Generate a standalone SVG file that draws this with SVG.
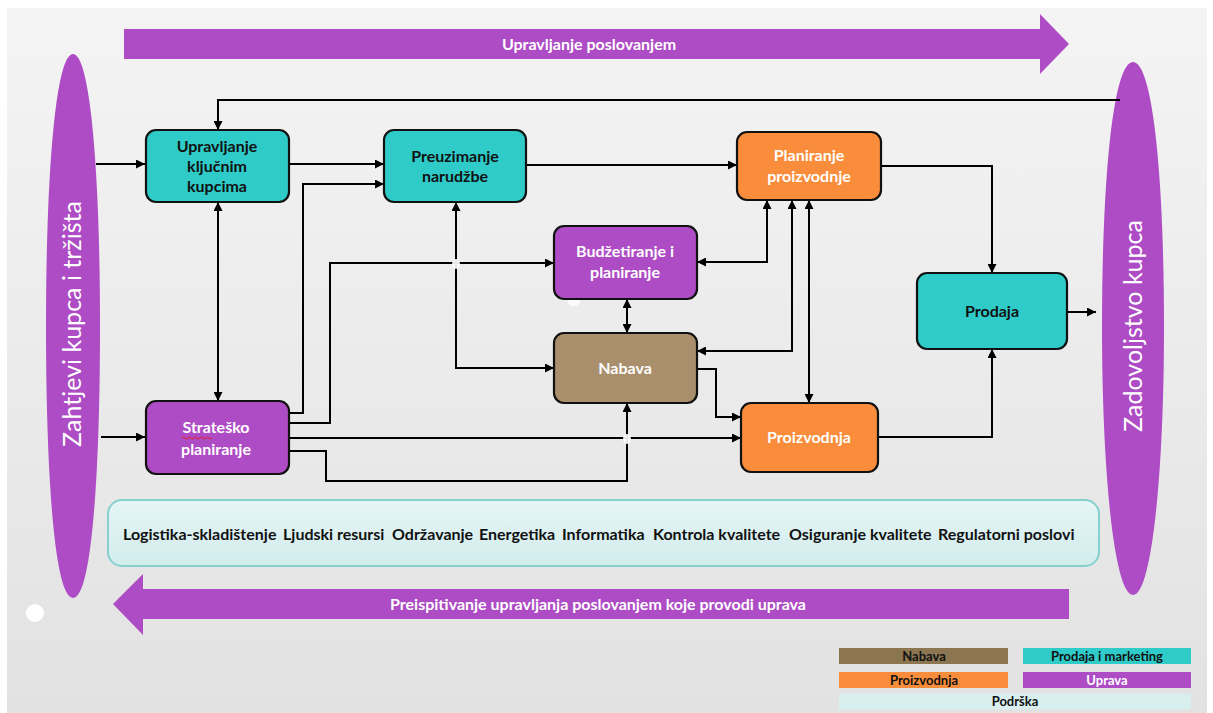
<svg xmlns="http://www.w3.org/2000/svg" width="1213" height="713" viewBox="0 0 1213 713">
  <defs>
    <linearGradient id="bg" x1="0" y1="0" x2="0" y2="1">
      <stop offset="0" stop-color="#f4f4f4"/>
      <stop offset="1" stop-color="#e2e2e2"/>
    </linearGradient>
    <linearGradient id="sup" x1="0" y1="0" x2="0" y2="1">
      <stop offset="0" stop-color="#e6f5f6"/>
      <stop offset="1" stop-color="#d2ecec"/>
    </linearGradient>
    <marker id="arr" viewBox="0 0 10 10" refX="10" refY="5" markerWidth="9" markerHeight="9" markerUnits="userSpaceOnUse" orient="auto-start-reverse">
      <path d="M0,0 L10,5 L0,10 z" fill="#000"/>
    </marker>
    <style>
      .box { stroke: #111; stroke-width: 2.2; }
      .teal { fill: #2ecbc9; }
      .purple { fill: #ae4cc5; }
      .orange { fill: #f98d3b; }
      .brown { fill: #a98f6c; }
      .t { font-family: Lato, "Liberation Sans", sans-serif; font-weight: bold; font-size: 16px; text-anchor: middle; }
      .dark { fill: #111; }
      .light { fill: #fff; }
      .big { font-family: Lato, "Liberation Sans", sans-serif; font-size: 25px; fill: #fff; text-anchor: middle; }
      .band { font-family: Lato, "Liberation Sans", sans-serif; font-weight: bold; font-size: 16px; fill: #fff; text-anchor: middle; }
      .leg { font-family: Lato, "Liberation Sans", sans-serif; font-weight: bold; font-size: 13px; text-anchor: middle; }
      .sup { font-family: Lato, "Liberation Sans", sans-serif; font-weight: bold; font-size: 16px; fill: #111; }
      .ca { fill: none; stroke: #000; stroke-width: 2; marker-end: url(#arr); }
      .cb { fill: none; stroke: #000; stroke-width: 2; marker-start: url(#arr); marker-end: url(#arr); }
    </style>
  </defs>

  <rect x="0" y="0" width="1213" height="713" fill="#ffffff"/>
  <rect x="7" y="8" width="1200" height="705" fill="url(#bg)"/>

  <!-- Top band arrow -->
  <g id="top-arrow">
    <path d="M124,29 H1040 V14 L1069,44 L1040,74 V59 H124 Z" fill="#ae4cc5"/>
    <text class="band" x="589" y="50">Upravljanje poslovanjem</text>
  </g>

  <!-- Bottom band arrow -->
  <g id="bottom-arrow">
    <path d="M1069,589 H143 V574 L113,604 L143,635 V619 H1069 Z" fill="#ae4cc5"/>
    <text class="band" x="598" y="610">Preispitivanje upravljanja poslovanjem koje provodi uprava</text>
  </g>

  <!-- Left spindle -->
  <g id="zahtjevi">
    <path d="M73,54 C90,54 100,170 100,326 C100,470 92,598 73,598 C54,598 46,470 46,326 C46,170 56,54 73,54 Z" fill="#ae4cc5"/>
    <text class="big" transform="translate(81,324) rotate(-90)">Zahtjevi kupca i tržišta</text>
  </g>

  <!-- Right spindle -->
  <g id="zadovoljstvo">
    <path d="M1133,62 C1152,62 1164,170 1164,328 C1164,470 1152,595 1133,595 C1114,595 1102,470 1102,328 C1102,170 1114,62 1133,62 Z" fill="#ae4cc5"/>
    <text class="big" transform="translate(1142,326) rotate(-90)">Zadovoljstvo kupca</text>
  </g>

  <circle cx="35" cy="613" r="9" fill="#ffffff"/>

  <!-- Connectors -->
  <g id="connectors">
    <path class="ca" d="M96,164 H145"/>
    <path class="ca" d="M289,164 H384"/>
    <path class="ca" d="M289,413 H303 V184 H384"/>
    <path class="ca" d="M1120,100 H218 V130"/>
    <path class="cb" d="M218,202 V401"/>
    <path class="ca" d="M526,165 H737"/>
    <path class="cb" d="M554,368 H456 V202"/>
    <path class="ca" d="M289,423 H330 V263 H554"/>
    <path class="ca" d="M289,438 H741"/>
    <path class="ca" d="M289,451 H326 V481 H627 V403"/>
    <path class="cb" d="M627,299 V333"/>
    <path class="cb" d="M697,262 H767 V200"/>
    <path class="cb" d="M697,351 H792 V200"/>
    <path class="cb" d="M809,200 V403"/>
    <path class="ca" d="M697,369 H716 V417 H741"/>
    <path class="ca" d="M881,166 H992 V273"/>
    <path class="ca" d="M878,437 H992 V349"/>
    <path class="ca" d="M1067,312 H1096"/>
    <path class="ca" d="M101,437 H145"/>
    <ellipse cx="456" cy="264" rx="4" ry="5" fill="#ffffff" opacity="0.9"/>
    <ellipse cx="627" cy="439" rx="4" ry="5" fill="#ffffff" opacity="0.9"/>
    <ellipse cx="574" cy="302" rx="6" ry="4" fill="#ffffff" opacity="0.8"/>
  </g>

  <!-- Nodes -->
  <g id="upravljanje-kupcima">
    <rect class="box teal" x="146" y="130" width="143" height="72" rx="10"/>
    <text class="t dark" x="217" y="152">Upravljanje</text>
    <text class="t dark" x="217" y="172">ključnim</text>
    <text class="t dark" x="217" y="192">kupcima</text>
  </g>

  <g id="preuzimanje">
    <rect class="box teal" x="384" y="130" width="142" height="72" rx="10"/>
    <text class="t dark" x="455" y="162">Preuzimanje</text>
    <text class="t dark" x="455" y="182">narudžbe</text>
  </g>

  <g id="planiranje-proizvodnje">
    <rect class="box orange" x="737" y="132" width="144" height="68" rx="10"/>
    <text class="t light" x="809" y="161">Planiranje</text>
    <text class="t light" x="809" y="182">proizvodnje</text>
  </g>

  <g id="budzetiranje">
    <rect class="box purple" x="554" y="226" width="143" height="73" rx="10"/>
    <text class="t light" x="625" y="257">Budžetiranje i</text>
    <text class="t light" x="625" y="278">planiranje</text>
  </g>

  <g id="nabava">
    <rect class="box brown" x="554" y="333" width="143" height="70" rx="10"/>
    <text class="t light" x="625" y="374">Nabava</text>
  </g>

  <g id="proizvodnja">
    <rect class="box orange" x="741" y="403" width="137" height="69" rx="10"/>
    <text class="t light" x="809" y="443">Proizvodnja</text>
  </g>

  <g id="prodaja">
    <rect class="box teal" x="917" y="273" width="150" height="76" rx="10"/>
    <text class="t dark" x="992" y="317">Prodaja</text>
  </g>

  <g id="stratesko-planiranje">
    <rect class="box purple" x="146" y="401" width="143" height="73" rx="10"/>
    <text class="t light" x="216" y="433">Strateško</text>
    <text class="t light" x="216" y="455">planiranje</text>
    <path d="M182,438 q1.5,-2 3,0 t3,0 t3,0 t3,0 t3,0 t3,0 t3,0 t3,0 t3,0 t3,0" fill="none" stroke="#e02020" stroke-width="1"/>
  </g>

  <!-- Support box -->
  <g id="podrska">
    <rect x="108" y="500" width="991" height="66" rx="14" fill="url(#sup)" stroke="#86d0ce" stroke-width="2"/>
    <text class="sup" x="123" y="540">Logistika-skladištenje</text>
    <text class="sup" x="283" y="540">Ljudski resursi</text>
    <text class="sup" x="392" y="540">Održavanje</text>
    <text class="sup" x="479" y="540">Energetika</text>
    <text class="sup" x="562" y="540">Informatika</text>
    <text class="sup" x="653" y="540">Kontrola kvalitete</text>
    <text class="sup" x="789" y="540">Osiguranje kvalitete</text>
    <text class="sup" x="938" y="540">Regulatorni poslovi</text>
  </g>

  <!-- Legend -->
  <g id="legend">
    <rect x="839" y="648" width="169" height="16" fill="#8b7651"/>
    <text class="leg dark" x="924" y="661">Nabava</text>
    <rect x="1023" y="648" width="168" height="16" fill="#2ecbc9"/>
    <text class="leg dark" x="1107" y="661">Prodaja i marketing</text>
    <rect x="839" y="672" width="169" height="16" fill="#f98d3b"/>
    <text class="leg dark" x="924" y="685">Proizvodnja</text>
    <rect x="1023" y="672" width="168" height="16" fill="#ae4cc5"/>
    <text class="leg light" x="1107" y="685">Uprava</text>
    <rect x="839" y="694" width="352" height="15" fill="#d8eff0"/>
    <text class="leg dark" x="1015" y="706">Podrška</text>
  </g>
</svg>
